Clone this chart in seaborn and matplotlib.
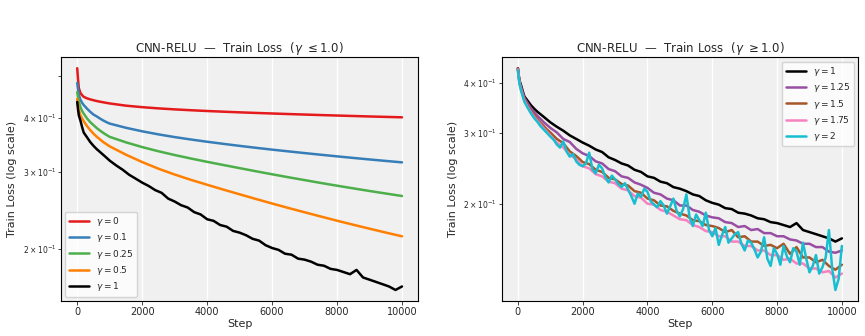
import matplotlib
matplotlib.use("Agg")
import matplotlib.pyplot as plt
import seaborn as sns
import pandas as pd

# step grids
steps_early = [0, 25, 50, 100, 150, 200, 300, 400, 500, 600, 700, 800, 900]
steps_smooth = steps_early + list(range(1000, 10001, 500))
steps_fine = steps_early + list(range(1000, 10001, 200))
steps_cyan = steps_early + list(range(1000, 10001, 100))

# gamma <= 1, smooth curves
loss_g0 = [0.520, 0.490, 0.468, 0.456, 0.451, 0.447, 0.4435, 0.441, 0.439, 0.4372,
           0.4356, 0.4343, 0.4329,
           0.4316, 0.4266, 0.4232, 0.4205, 0.4183, 0.4164, 0.4147, 0.4132, 0.4118,
           0.4105, 0.4093, 0.4081, 0.4070, 0.4059, 0.4049, 0.4039, 0.4029, 0.4020,
           0.4011]
loss_g01 = [0.481, 0.465, 0.452, 0.440, 0.433, 0.428, 0.420, 0.413, 0.407, 0.403,
            0.3985, 0.3945, 0.391,
            0.388, 0.3795, 0.3725, 0.3665, 0.3613, 0.3567, 0.3525, 0.3486, 0.3449,
            0.3414, 0.3381, 0.3350, 0.3320, 0.3291, 0.3263, 0.3236, 0.3210, 0.3185,
            0.3161]
loss_g025 = [0.458, 0.446, 0.436, 0.423, 0.415, 0.409, 0.399, 0.391, 0.385, 0.379,
             0.374, 0.3695, 0.3654,
             0.3617, 0.3514, 0.3427, 0.3352, 0.3286, 0.3226, 0.3170, 0.3117, 0.3066,
             0.3016, 0.2968, 0.2922, 0.2878, 0.2835, 0.2794, 0.2755, 0.2717, 0.2681,
             0.2646]
loss_g05 = [0.442, 0.428, 0.417, 0.405, 0.399, 0.393, 0.383, 0.375, 0.368, 0.362,
            0.357, 0.352, 0.348,
            0.344, 0.3292, 0.3166, 0.3057, 0.2964, 0.2882, 0.2808, 0.2737, 0.2670,
            0.2605, 0.2543, 0.2484, 0.2428, 0.2374, 0.2322, 0.2273, 0.2226, 0.2181,
            0.2138]

# noisy curves (200-step readings)
loss_g1 = [0.435, 0.418, 0.405, 0.394, 0.381, 0.370, 0.361, 0.352, 0.345, 0.339,
           0.334, 0.329, 0.324,
           0.319, 0.311, 0.304, 0.296, 0.290, 0.284, 0.279, 0.273, 0.269, 0.261,
           0.257, 0.252, 0.249, 0.243, 0.240, 0.234, 0.232, 0.227, 0.225, 0.220,
           0.218, 0.215, 0.211, 0.209, 0.204, 0.201, 0.199, 0.195, 0.194, 0.190,
           0.189, 0.187, 0.184, 0.183, 0.180, 0.179, 0.177, 0.175, 0.179, 0.172,
           0.170, 0.168, 0.166, 0.164, 0.161, 0.164]
loss_g125 = [0.434, 0.417, 0.404, 0.390, 0.378, 0.367, 0.356, 0.346, 0.338, 0.331,
             0.325, 0.319, 0.314,
             0.309, 0.301, 0.290, 0.285, 0.274, 0.267, 0.263, 0.255, 0.252, 0.244,
             0.241, 0.234, 0.232, 0.226, 0.223, 0.219, 0.213, 0.211, 0.206, 0.204,
             0.198, 0.198, 0.193, 0.191, 0.187, 0.185, 0.184, 0.180, 0.179, 0.175,
             0.176, 0.172, 0.173, 0.169, 0.169, 0.166, 0.166, 0.163, 0.162, 0.159,
             0.159, 0.156, 0.156, 0.152, 0.151, 0.153]
loss_g15 = [0.434, 0.415, 0.401, 0.386, 0.374, 0.363, 0.351, 0.341, 0.332, 0.325,
            0.318, 0.312, 0.306,
            0.301, 0.290, 0.283, 0.270, 0.263, 0.254, 0.251, 0.243, 0.240, 0.232,
            0.230, 0.224, 0.222, 0.215, 0.213, 0.206, 0.204, 0.198, 0.197, 0.192,
            0.189, 0.187, 0.182, 0.181, 0.177, 0.176, 0.174, 0.170, 0.172, 0.165,
            0.166, 0.161, 0.161, 0.157, 0.158, 0.155, 0.159, 0.150, 0.156, 0.147,
            0.147, 0.143, 0.145, 0.140, 0.137, 0.141]
loss_g175 = [0.432, 0.413, 0.399, 0.384, 0.372, 0.361, 0.349, 0.338, 0.329, 0.322,
             0.315, 0.308, 0.302,
             0.296, 0.284, 0.276, 0.265, 0.258, 0.248, 0.245, 0.237, 0.234, 0.227,
             0.225, 0.218, 0.216, 0.209, 0.207, 0.200, 0.199, 0.193, 0.191, 0.187,
             0.183, 0.182, 0.177, 0.175, 0.171, 0.170, 0.166, 0.166, 0.161, 0.161,
             0.157, 0.157, 0.153, 0.153, 0.149, 0.149, 0.145, 0.146, 0.142, 0.142,
             0.138, 0.138, 0.135, 0.136, 0.131, 0.134]
# gamma = 2 is the noisiest, read at 100-step spacing
loss_g2 = [0.430, 0.411, 0.397, 0.382, 0.370, 0.359, 0.347, 0.336, 0.327, 0.320,
           0.312, 0.306, 0.300,
           0.294, 0.289, 0.281, 0.276, 0.286, 0.270, 0.262, 0.266, 0.255, 0.250,
           0.248, 0.252, 0.268, 0.244, 0.238, 0.250, 0.245, 0.233, 0.226, 0.235,
           0.230, 0.224, 0.220, 0.225, 0.217, 0.209, 0.200, 0.212, 0.208, 0.218,
           0.214, 0.203, 0.199, 0.196, 0.203, 0.198, 0.189, 0.197, 0.206, 0.192,
           0.186, 0.194, 0.211, 0.185, 0.176, 0.188, 0.182, 0.176, 0.190, 0.172,
           0.166, 0.174, 0.158, 0.167, 0.175, 0.160, 0.164, 0.168, 0.170, 0.159,
           0.153, 0.162, 0.160, 0.154, 0.147, 0.152, 0.165, 0.146, 0.140, 0.155,
           0.150, 0.141, 0.157, 0.148, 0.143, 0.155, 0.152, 0.141, 0.160, 0.146,
           0.135, 0.140, 0.149, 0.134, 0.139, 0.147, 0.172, 0.138, 0.122, 0.130,
           0.157]

left_series = [
    (r"$\gamma = 0$", steps_smooth, loss_g0),
    (r"$\gamma = 0.1$", steps_smooth, loss_g01),
    (r"$\gamma = 0.25$", steps_smooth, loss_g025),
    (r"$\gamma = 0.5$", steps_smooth, loss_g05),
    (r"$\gamma = 1$", steps_fine, loss_g1),
]
right_series = [
    (r"$\gamma = 1$", steps_fine, loss_g1),
    (r"$\gamma = 1.25$", steps_fine, loss_g125),
    (r"$\gamma = 1.5$", steps_fine, loss_g15),
    (r"$\gamma = 1.75$", steps_fine, loss_g175),
    (r"$\gamma = 2$", steps_cyan, loss_g2),
]
left_colors = ["#e41a1c", "#377eb8", "#4daf4a", "#ff7f00", "black"]
right_colors = ["black", "#984ea3", "#a65628", "#f781bf", "#17becf"]


def to_frame(series):
    rows = []
    for name, xs, ys in series:
        assert len(xs) == len(ys), (name, len(xs), len(ys))
        for x, y in zip(xs, ys):
            rows.append({"gamma": name, "Step": x, "loss": y})
    return pd.DataFrame(rows)


sns.set_style("darkgrid", {"axes.facecolor": "#f0f0f0", "axes.edgecolor": "black",
                           "grid.color": "white", "xtick.bottom": True, "ytick.left": True,
                           "axes.linewidth": 0.8})
plt.rcParams["font.family"] = ["DejaVu Sans"]

fig = plt.figure(figsize=(8.65, 3.36), dpi=100)
ax1 = fig.add_axes([0.0705, 0.104, 0.413, 0.726])
ax2 = fig.add_axes([0.580, 0.104, 0.412, 0.726])

for ax, series, colors, loc, title in [
    (ax1, left_series, left_colors, "lower left", r"CNN-RELU  —  Train Loss  ($\gamma\ \leq 1.0$)"),
    (ax2, right_series, right_colors, "upper right", r"CNN-RELU  —  Train Loss  ($\gamma\ \geq 1.0$)"),
]:
    df = to_frame(series)
    sns.lineplot(data=df, x="Step", y="loss", hue="gamma", palette=colors,
                 linewidth=1.8, ax=ax, legend=True)
    ax.set_yscale("log")
    ax.grid(False, axis="y")
    ax.grid(True, axis="x", color="white", linewidth=1.0)
    ax.set_title(title, fontsize=8.5, pad=4)
    ax.set_xlabel("Step", fontsize=8, labelpad=1)
    ax.set_ylabel("Train Loss (log scale)", fontsize=8)
    ax.tick_params(axis="x", labelsize=7, length=3, width=0.6, pad=1.5)
    ax.tick_params(axis="y", which="both", labelsize=5.5, length=2, width=0.6, pad=1.5)
    leg = ax.legend(loc=loc, fontsize=6.5, frameon=True, handlelength=2.2,
                    borderpad=0.4, labelspacing=0.35)
    leg.get_frame().set_facecolor("white")
    leg.get_frame().set_edgecolor("#cccccc")
    for h in leg.get_lines():
        h.set_linewidth(1.8)

fig.savefig("out.png", dpi=100)
